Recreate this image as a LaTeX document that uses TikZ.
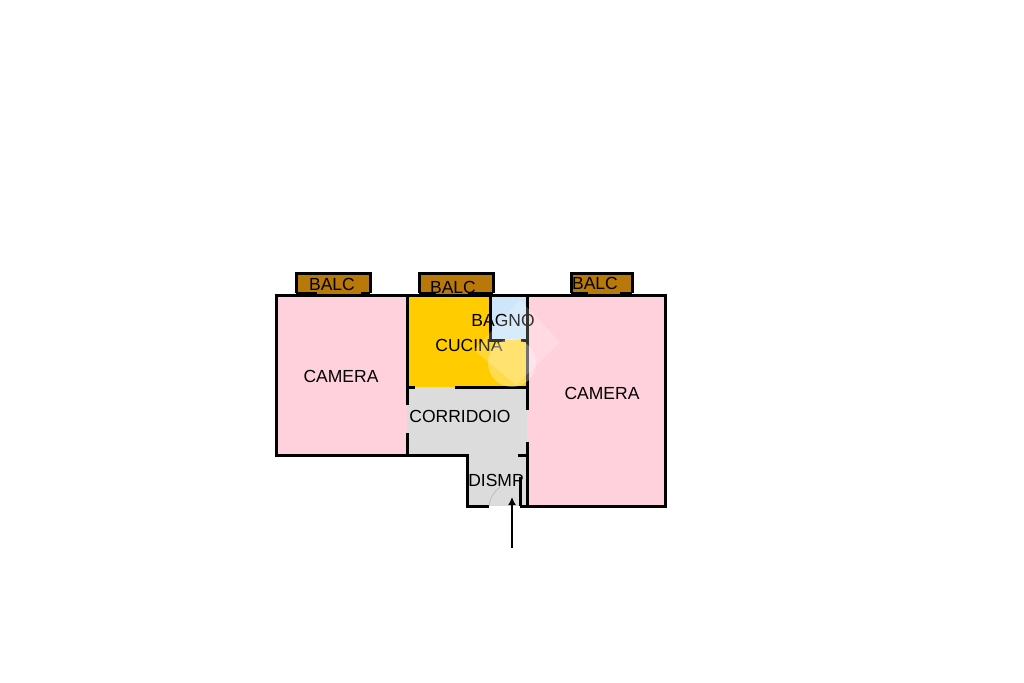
\documentclass[tikz,border=0pt]{standalone}
\usepackage{fontspec}
\usetikzlibrary{arrows.meta}
\setmainfont{Liberation Sans}
\definecolor{camerapink}{HTML}{FFD1DC}
\definecolor{cucinayellow}{HTML}{FFCC00}
\definecolor{corrgray}{HTML}{DCDCDC}
\definecolor{balcbrown}{HTML}{B8780A}
\definecolor{bagnoblue}{HTML}{CFE6FA}
\begin{document}
\begin{tikzpicture}[x=1pt,y=-1pt]
          \tikzstyle{wall}=[draw=black,line width=3pt]
          \tikzstyle{room}=[font=\fontsize{17.5}{20}\selectfont,inner sep=0pt]
          \useasboundingbox (0,0) rectangle (1024,682);
          \fill[white] (0,0) rectangle (1024,682);
          \begin{scope}
             % floors
             \fill[camerapink] (276,295) rectangle (407,455);
             \fill[camerapink] (527,295) rectangle (665,506);
             \fill[cucinayellow] (407,295) rectangle (527,387);
             \fill[bagnoblue] (490,295) rectangle (527,340);
             \fill[corrgray] (407,387) rectangle (527,455);
             \fill[corrgray] (467,455) rectangle (527,506);
             \fill[balcbrown] (296,273) rectangle (370,295);
             \fill[balcbrown] (419,273) rectangle (493,295);
             \fill[balcbrown] (571,273) rectangle (632,295);
             % walls
             \path[wall] (276,295.5) -- (276,455) -- (467,455) -- (467,506) -- (489,506);
             \path[wall] (520,506) -- (665,506) -- (665,295.5);
             \path[wall] (274.5,295.5) -- (666.5,295.5);
             \path[wall] (296,293) -- (296,273) -- (370,273) -- (370,293);
             \path[wall] (419,293) -- (419,273) -- (493,273) -- (493,293);
             \path[wall] (571,293) -- (571,273) -- (632,273) -- (632,293);
             % balcony doors
             \path[wall] (296,293) -- (317,293) (361,293) -- (370,293);
             \path[wall] (419,293) -- (436,293) (468,293) -- (493,293);
             \path[wall] (571,293) -- (588,293) (620,293) -- (632,293);
             \path[wall] (407,295) -- (407,405) (407,433) -- (407,455);
             \path[wall] (407,387) -- (415,387) (455,387) -- (527,387);
             \path[wall] (490,295) -- (490,340) -- (505,340);
             \path[wall] (521,340) -- (527,340);
             \path[wall] (527,295) -- (527,410) (527,442) -- (527,506);
             \path[wall] (518,455) -- (527,455);
             \path[wall] (520,477) -- (520,506);
             % bagno window
             \fill[white] (499,292.8) rectangle (520,293.8);
             % door
             \draw[gray!70] (489,506) .. controls (490,498) and (494,491) .. (500,487);
             % labels
             \node [room] (balc1) at (332,284) {BALC};
             \node [room] (balc2) at (453,287) {BALC};
             \node [room] (balc3) at (595,283) {BALC};
             \node [room] (bagno) at (503,320) {BAGNO};
             \node [room] (cucina) at (469,345) {CUCINA};
             \node [room] (camera1) at (341,376) {CAMERA};
             \node [room] (camera2) at (602,393) {CAMERA};
             \node [room] (corridoio) at (460,416) {CORRIDOIO};
             \node [room] (dismp) at (496,480) {DISMP};
             % logo
             \fill[white,opacity=0.2] (520,300) -- (560,342) -- (516,385) -- (474,350) -- cycle;
             \fill[white,opacity=0.3] (512,363) circle (24);
             % entrance
             \coordinate (from) at (512,548);
             \coordinate (to) at (512,497);
             \draw[-{Latex[length=8pt,width=8pt]},line width=1.5pt] (from) -- (to);
          \end{scope}
\end{tikzpicture}
\end{document}
